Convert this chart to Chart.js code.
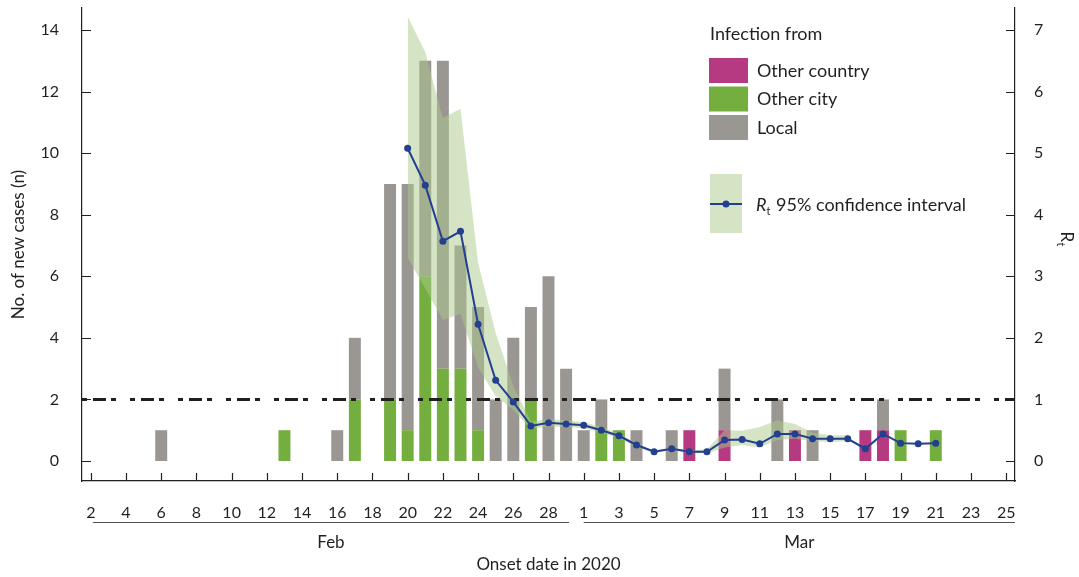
<!DOCTYPE html>
<html>
<head>
<meta charset="utf-8">
<script src="https://cdn.jsdelivr.net/npm/chart.js@4.4.0/dist/chart.umd.min.js"></script>
<style>
  html, body { margin: 0; padding: 0; background: #fff; }
  #wrap { width: 1079px; height: 577px; }
</style>
</head>
<body>
<div id="wrap"><canvas id="epi"></canvas></div>
<script>
// onset dates (Feb 2 .. Mar 25, 2020)
const febDays = [2, 3, 4, 5, 6, 7, 8, 9, 10, 11, 12, 13, 14, 15, 16, 17, 18, 19, 20, 21, 22, 23, 24, 25, 26, 27, 28, 29];
const marDays = [1, 2, 3, 4, 5, 6, 7, 8, 9, 10, 11, 12, 13, 14, 15, 16, 17, 18, 19, 20, 21, 22, 23, 24, 25];

// new cases per day by source of infection
const otherCountry = [0, 0, 0, 0, 0, 0, 0, 0, 0, 0, 0, 0, 0, 0, 0, 0, 0, 0, 0, 0, 0, 0, 0, 0, 0, 0, 0, 0,
  0, 0, 0, 0, 0, 0, 1, 0, 1, 0, 0, 0, 1, 0, 0, 0, 1, 1, 0, 0, 0, 0, 0, 0, 0];
const otherCity = [0, 0, 0, 0, 0, 0, 0, 0, 0, 0, 0, 1, 0, 0, 0, 2, 0, 2, 1, 6, 3, 3, 1, 0, 0, 2, 0, 0,
  0, 1, 1, 0, 0, 0, 0, 0, 0, 0, 0, 0, 0, 0, 0, 0, 0, 0, 1, 0, 1, 0, 0, 0, 0];
const local = [0, 0, 0, 0, 1, 0, 0, 0, 0, 0, 0, 0, 0, 0, 1, 2, 0, 7, 8, 7, 10, 4, 4, 2, 4, 3, 6, 3,
  1, 1, 0, 1, 0, 1, 0, 0, 2, 0, 0, 2, 0, 1, 0, 0, 0, 1, 0, 0, 0, 0, 0, 0, 0];

// time-varying reproduction number and its 95% CI
const rt = [null, null, null, null, null, null, null, null, null, null, null, null, null, null, null, null, null, null,
  5.08, 4.48, 3.57, 3.73, 2.22, 1.31, 0.96, 0.57, 0.62, 0.60,
  0.58, 0.50, 0.41, 0.26, 0.15, 0.20, 0.15, 0.15, 0.34, 0.35, 0.28, 0.44, 0.44, 0.36, 0.36, 0.36, 0.20, 0.44, 0.29, 0.28, 0.29,
  null, null, null, null];
const rtUpper = [null, null, null, null, null, null, null, null, null, null, null, null, null, null, null, null, null, null,
  7.22, 6.64, 5.57, 5.72, 3.22, 2.08, 1.22, 0.64, 0.68, 0.66,
  0.63, 0.55, 0.45, 0.29, 0.17, 0.22, 0.17, 0.19, 0.50, 0.49, 0.55, 0.66, 0.60, 0.46, 0.42, 0.42, null, null, null, null, null,
  null, null, null, null];
const rtLower = [null, null, null, null, null, null, null, null, null, null, null, null, null, null, null, null, null, null,
  3.30, 2.80, 2.29, 2.39, 1.52, 1.05, 0.83, 0.52, 0.56, 0.55,
  0.53, 0.46, 0.37, 0.23, 0.13, 0.18, 0.13, 0.12, 0.22, 0.26, 0.22, 0.34, 0.36, 0.32, 0.31, 0.32, null, null, null, null, null,
  null, null, null, null];

const caseTicks = [0, 2, 4, 6, 8, 10, 12, 14];
const rtTicks = [0, 1, 2, 3, 4, 5, 6, 7];

const dayNums = febDays.concat(marDays);
const labels = febDays.map(d => 'Feb ' + d).concat(marDays.map(d => 'Mar ' + d));

const ink = '#231f20';
const lineBlue = '#233f8f';
const bandFill = 'rgba(171, 201, 139, 0.5)';
Chart.defaults.font.family = 'Lato, "Open Sans", sans-serif';
Chart.defaults.color = ink;

const extras = {
  id: 'extras',
  beforeDatasetDraw(chart, args) {
    // threshold Rt = 1, above bars and band, below the Rt line
    if (args.index !== 0) return;
    const {ctx, chartArea} = chart;
    const y = chart.scales.y1.getPixelForValue(1);
    ctx.save();
    ctx.strokeStyle = ink;
    ctx.lineWidth = 3;
    ctx.setLineDash([5, 6, 13, 5, 5, 14]);
    ctx.beginPath();
    ctx.moveTo(chartArea.left, y);
    ctx.lineTo(chartArea.right, y);
    ctx.stroke();
    ctx.restore();
  },
  afterDraw(chart) {
    const {ctx, chartArea} = chart;
    const x = chart.scales.x, y = chart.scales.y, y1 = chart.scales.y1;
    ctx.save();
    ctx.strokeStyle = ink;
    ctx.lineWidth = 1.2;
    ctx.beginPath();
    caseTicks.forEach(v => {
      const p = Math.round(y.getPixelForValue(v)) + 0.5;
      ctx.moveTo(chartArea.left, p);
      ctx.lineTo(chartArea.left + 9, p);
    });
    rtTicks.forEach(v => {
      const p = Math.round(y1.getPixelForValue(v)) + 0.5;
      ctx.moveTo(chartArea.right - 9, p);
      ctx.lineTo(chartArea.right, p);
    });
    dayNums.forEach((d, i) => {
      if (i % 2) return;
      const p = Math.round(x.getPixelForValue(i)) + 0.5;
      ctx.moveTo(p, chartArea.bottom);
      ctx.lineTo(p, chartArea.bottom - 8);
    });
    ctx.stroke();

    // month brackets
    const lineY = chartArea.bottom + 41.5;
    const febA = x.getPixelForValue(0) + 2, febB = x.getPixelForValue(febDays.length - 1) + 3;
    const marA = x.getPixelForValue(febDays.length), marB = chartArea.right;
    ctx.strokeStyle = '#555';
    ctx.lineWidth = 1.2;
    ctx.beginPath();
    ctx.moveTo(febA, lineY); ctx.lineTo(febB, lineY);
    ctx.moveTo(marA, lineY); ctx.lineTo(marB, lineY);
    ctx.stroke();
    ctx.fillStyle = ink;
    ctx.font = '17px Lato, sans-serif';
    ctx.textAlign = 'center';
    ctx.textBaseline = 'middle';
    ctx.fillText('Feb', (febA + febB) / 2, chartArea.bottom + 62);
    ctx.fillText('Mar', (marA + marB) / 2, chartArea.bottom + 62);

    // right axis title R_t
    ctx.save();
    ctx.translate(1066, chartArea.top + (chartArea.bottom - chartArea.top) / 2 - 6);
    ctx.rotate(Math.PI / 2);
    ctx.textAlign = 'left';
    ctx.font = '17px Lato, sans-serif';
    ctx.fillText('R', -7, 0);
    ctx.font = '11px Lato, sans-serif';
    ctx.fillText('t', 4, 5);
    ctx.restore();

    // legend
    const ds = chart.data.datasets;
    ctx.textAlign = 'left';
    ctx.font = '18px Lato, sans-serif';
    ctx.fillText('Infection from', 710, 34);
    const rows = [ds[3], ds[4], ds[5]];
    rows.forEach((d, i) => {
      const top = 58 + i * 28.5;
      ctx.fillStyle = d.backgroundColor;
      ctx.fillRect(709, top, 39, 25);
      ctx.fillStyle = ink;
      ctx.fillText(d.label, 757, top + 13);
    });
    ctx.fillStyle = bandFill;
    ctx.fillRect(710, 174, 32, 59);
    ctx.strokeStyle = lineBlue;
    ctx.lineWidth = 2;
    ctx.beginPath();
    ctx.moveTo(710, 204); ctx.lineTo(742, 204);
    ctx.stroke();
    ctx.fillStyle = lineBlue;
    ctx.beginPath();
    ctx.arc(726, 204, 3.5, 0, Math.PI * 2);
    ctx.fill();
    ctx.fillStyle = ink;
    ctx.font = 'italic 18px Lato, sans-serif';
    ctx.fillText('R', 756, 205);
    let tx = 756 + ctx.measureText('R').width;
    ctx.font = '11px Lato, sans-serif';
    ctx.fillText('t', tx, 211);
    tx += ctx.measureText('t').width + 1;
    ctx.font = '18px Lato, sans-serif';
    ctx.fillText(' 95% confidence interval', tx, 205);
    ctx.restore();
  }
};

const chart = new Chart(document.getElementById('epi'), {
  type: 'bar',
  data: {
    labels: labels,
    datasets: [
      {
        type: 'line',
        label: 'Rt',
        data: rt,
        yAxisID: 'y1',
        borderColor: lineBlue,
        backgroundColor: lineBlue,
        borderWidth: 2,
        pointRadius: 3.5,
        pointBorderWidth: 0,
        pointBackgroundColor: lineBlue,
        tension: 0,
        fill: false,
        order: 0,
      },
      {
        type: 'line',
        label: 'Rt upper',
        data: rtUpper,
        yAxisID: 'y1',
        borderWidth: 0,
        pointRadius: 0,
        backgroundColor: bandFill,
        fill: '+1',
        order: 1,
      },
      {
        type: 'line',
        label: 'Rt lower',
        data: rtLower,
        yAxisID: 'y1',
        borderWidth: 0,
        pointRadius: 0,
        backgroundColor: 'rgba(0,0,0,0)',
        fill: false,
        order: 1,
      },
      // stacked bottom-up: other country, other city, local
      { label: 'Other country', data: otherCountry, backgroundColor: '#b53a82', stack: 'c', order: 2 },
      { label: 'Other city', data: otherCity, backgroundColor: '#74ae3f', stack: 'c', order: 2 },
      { label: 'Local', data: local, backgroundColor: '#9a9692', stack: 'c', order: 2 },
    ],
  },
  options: {
    responsive: true,
    maintainAspectRatio: false,
    animation: false,
    events: [],
    layout: { padding: { top: 8, left: 0, right: 0, bottom: 0 } },
    datasets: {
      bar: { barPercentage: 0.68, categoryPercentage: 1.0, borderWidth: 0 },
    },
    plugins: {
      legend: { display: false },
      tooltip: { enabled: false },
      filler: { drawTime: 'beforeDatasetDraw' },
    },
    scales: {
      x: {
        stacked: true,
        offset: true,
        grid: { display: false },
        border: { display: true, color: ink, width: 1.2 },
        ticks: {
          autoSkip: false,
          maxRotation: 0,
          padding: 14,
          font: { size: 16 },
          callback: (value, index) => (index % 2 === 0 ? String(dayNums[index]) : ''),
        },
        title: { display: true, text: 'Onset date in 2020', font: { size: 17 }, padding: { top: 0, bottom: 2 } },
        afterFit: s => { s.height = 96; s.paddingLeft = 0; s.paddingRight = 0; },
      },
      y: {
        stacked: true,
        position: 'left',
        min: -0.65,
        max: 14.715,
        grid: { display: false },
        border: { display: true, color: ink, width: 1.2 },
        afterBuildTicks: s => { s.ticks = caseTicks.map(v => ({ value: v })); },
        ticks: { padding: 15, font: { size: 16 } },
        title: { display: true, text: 'No. of new cases (n)', font: { size: 17 }, padding: { top: 8, bottom: 0 } },
        afterFit: s => { s.width = 82; s.paddingTop = 0; s.paddingBottom = 0; },
      },
      y1: {
        position: 'right',
        min: -0.325,
        max: 7.357,
        grid: { display: false },
        border: { display: true, color: ink, width: 1.2 },
        afterBuildTicks: s => { s.ticks = rtTicks.map(v => ({ value: v })); },
        ticks: { padding: 11, font: { size: 16 } },
        afterFit: s => { s.width = 64; s.paddingTop = 0; s.paddingBottom = 0; },
      },
    },
  },
  plugins: [extras],
});
</script>
</body>
</html>
